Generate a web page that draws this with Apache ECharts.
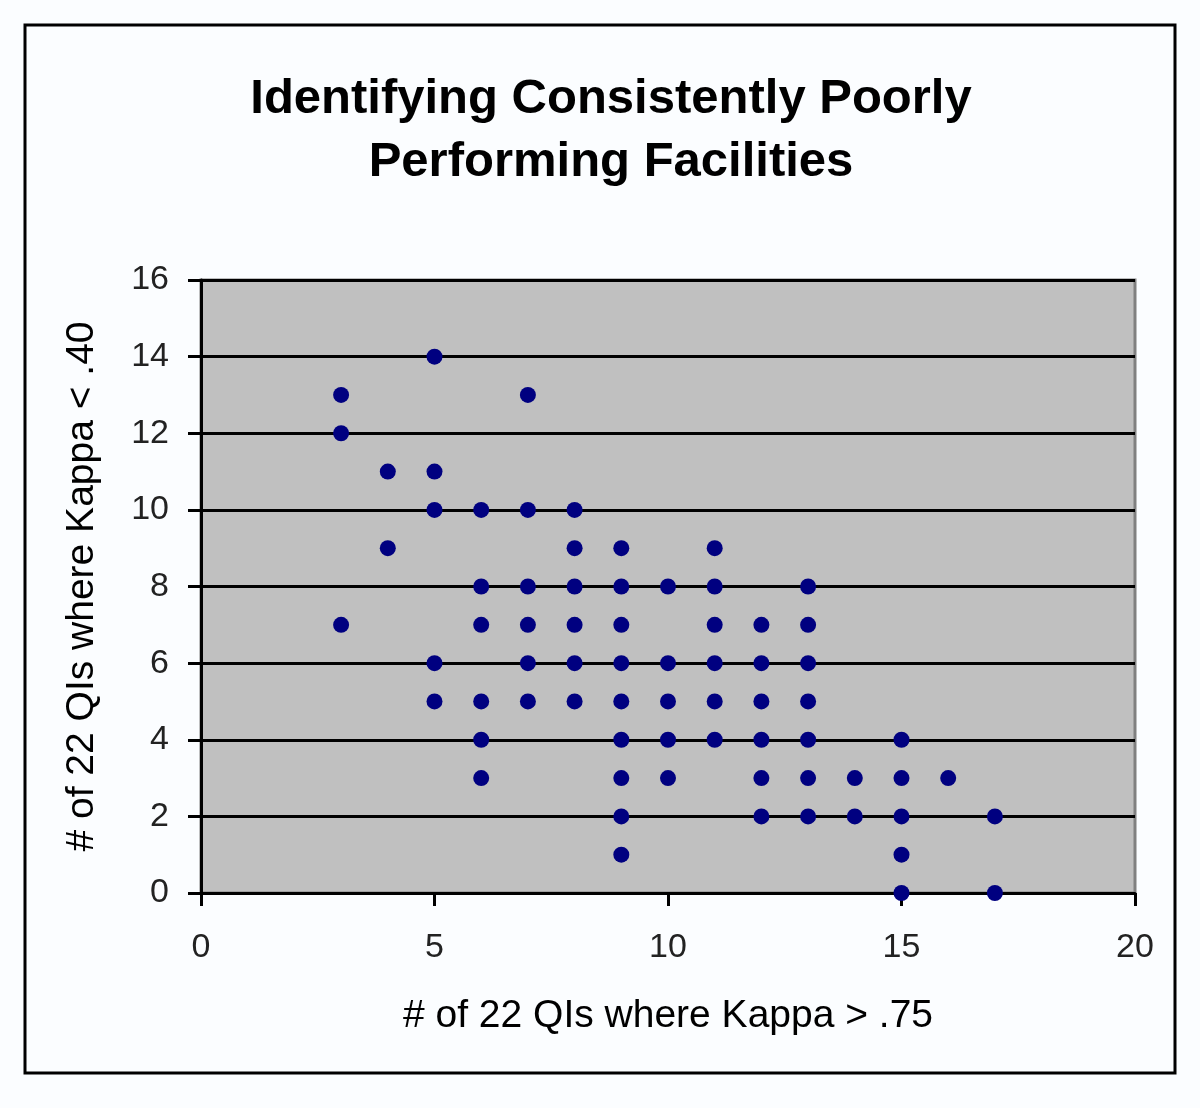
<!DOCTYPE html>
<html>
<head>
<meta charset="utf-8">
<script src="https://cdn.jsdelivr.net/npm/echarts@6/dist/echarts.min.js"></script>
<style>
html,body{margin:0;padding:0;background:#fbfdff;}
#chart{width:1200px;height:1108px;}
</style>
</head>
<body>
<div id="chart"></div>
<script>
// Data: x = # of 22 QIs where Kappa > .75, y = # of 22 QIs where Kappa < .40
const xValues = [3,3,3, 4,4, 5,5,5,5,5, 6,6,6,6,6,6, 7,7,7,7,7,7, 8,8,8,8,8,8, 9,9,9,9,9,9,9,9,9, 10,10,10,10,10, 11,11,11,11,11,11, 12,12,12,12,12,12, 13,13,13,13,13,13,13, 14,14, 15,15,15,15,15, 16, 17,17];
const yValues = [13,12,7, 11,9, 14,11,10,6,5, 10,8,7,5,4,3, 13,10,8,7,6,5, 10,9,8,7,6,5, 9,8,7,6,5,4,3,2,1, 8,6,5,4,3, 9,8,7,6,5,4, 7,6,5,4,3,2, 8,7,6,5,4,3,2, 3,2, 4,3,2,1,0, 3, 2,0];
const xTicks = [0,5,10,15,20];
const yTicks = [0,2,4,6,8,10,12,14,16];
const titleText = 'Identifying Consistently Poorly\nPerforming Facilities';
const xTitle = '# of 22 QIs where Kappa > .75';
const yTitle = '# of 22 QIs where Kappa < .40';

const points = xValues.map((x, i) => [x, yValues[i]]);
const chart = echarts.init(document.getElementById('chart'));
const font = '"Liberation Sans", Arial, sans-serif';
chart.setOption({
  backgroundColor: '#fbfdff',
  animation: false,
  title: {
    text: titleText,
    left: 606, top: 63, textAlign: 'center',
    textStyle: {fontFamily: font, fontWeight: 'bold', fontSize: 49, lineHeight: 63, color: '#000'}
  },
  graphic: [{
    type: 'rect', shape: {x: 25, y: 25, width: 1150, height: 1048},
    style: {fill: 'none', stroke: '#000', lineWidth: 3}, z: 100
  }],
  grid: {
    left: 201, right: 65, top: 280, bottom: 215,
    show: true, backgroundColor: '#c0c0c0', borderColor: '#808080', borderWidth: 3
  },
  xAxis: {
    type: 'value', min: 0, max: 20, interval: 5,
    name: xTitle, nameLocation: 'middle', nameGap: 104,
    nameTextStyle: {fontFamily: font, fontSize: 39, color: '#000'},
    axisLine: {show: true, onZero: false, lineStyle: {color: '#000', width: 3}},
    axisTick: {show: true, length: 13, lineStyle: {color: '#000', width: 3}},
    axisLabel: {fontFamily: font, fontSize: 34, color: '#222', margin: 38,
      formatter: v => xTicks.includes(v) ? String(v) : ''},
    splitLine: {show: false}
  },
  yAxis: {
    type: 'value', min: 0, max: 16, interval: 2,
    name: yTitle, nameLocation: 'middle', nameGap: 99, nameRotate: 90,
    nameTextStyle: {fontFamily: font, fontSize: 39, color: '#000'},
    axisLine: {show: true, onZero: false, lineStyle: {color: '#000', width: 3}},
    axisTick: {show: true, length: 13, lineStyle: {color: '#000', width: 3}},
    axisLabel: {fontFamily: font, fontSize: 34, color: '#222', margin: 32,
      formatter: v => yTicks.includes(v) ? String(v) : ''},
    splitLine: {show: true, lineStyle: {color: '#000', width: 3}}
  },
  series: [{
    type: 'scatter',
    data: points,
    symbol: 'circle',
    symbolSize: 16,
    itemStyle: {color: '#000080', opacity: 1}
  }]
});
</script>
</body>
</html>
